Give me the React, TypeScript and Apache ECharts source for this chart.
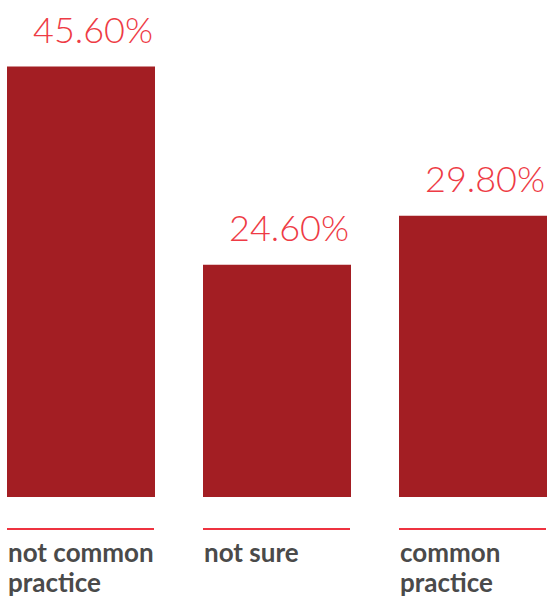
import React, { useEffect, useRef } from "react";
import * as echarts from "echarts";

const categories = ["not common practice", "not sure", "common practice"];
const values = [45.6, 24.6, 29.8];

export default function App() {
  const ref = useRef<HTMLDivElement>(null);
  useEffect(() => {
    const chart = echarts.init(ref.current!, undefined, { renderer: "svg" });
    chart.setOption({
      animation: false,
      grid: { left: 0, right: 0, top: 25, bottom: 100 },
      xAxis: {
        type: "category",
        data: categories,
        show: false,
      },
      yAxis: { type: "value", min: 0, max: 50, show: false },
      series: [
        {
          type: "bar",
          data: values,
          barWidth: 148,
          itemStyle: { color: "#A31E23" },
          label: {
            show: true,
            position: ["100%", 0],
            align: "right",
            verticalAlign: "bottom",
            offset: [-2, -20],
            formatter: (p: any) => p.value.toFixed(2) + "%",
            color: "#EE3B45",
            fontFamily: "Lato",
            fontWeight: 300,
            fontSize: 36,
          },
        },
        {
          type: "custom",
          clip: false,
          data: categories.map((c, i) => [i, 0]),
          renderItem: (params: any, api: any) => {
            const i = api.value(0);
            const pt = api.coord([i, 0]);
            const w = 148;
            const x0 = pt[0] - w / 2;
            return {
              type: "group",
              children: [
                {
                  type: "rect",
                  shape: { x: x0, y: pt[1] + 31, width: w - 1, height: 2 },
                  style: { fill: "#EE3340" },
                },
                {
                  type: "text",
                  x: x0 + 1,
                  y: pt[1] + 40,
                  style: {
                    text: categories[i],
                    width: 158,
                    overflow: "break",
                    fill: "#4A4A4A",
                    fontFamily: "Lato",
                    fontWeight: "bold",
                    fontSize: 26,
                    lineHeight: 30,
                    align: "left",
                    verticalAlign: "top",
                  },
                },
              ],
            };
          },
        },
      ],
    });
    return () => chart.dispose();
  }, []);
  return (
    <div
      style={{
        position: "fixed",
        left: 0,
        top: 0,
        width: 548,
        height: 597,
        overflow: "hidden",
        background: "#fff",
      }}
    >
      <div
        ref={ref}
        style={{ position: "absolute", left: -17, top: 0, width: 588, height: 597 }}
      />
    </div>
  );
}
